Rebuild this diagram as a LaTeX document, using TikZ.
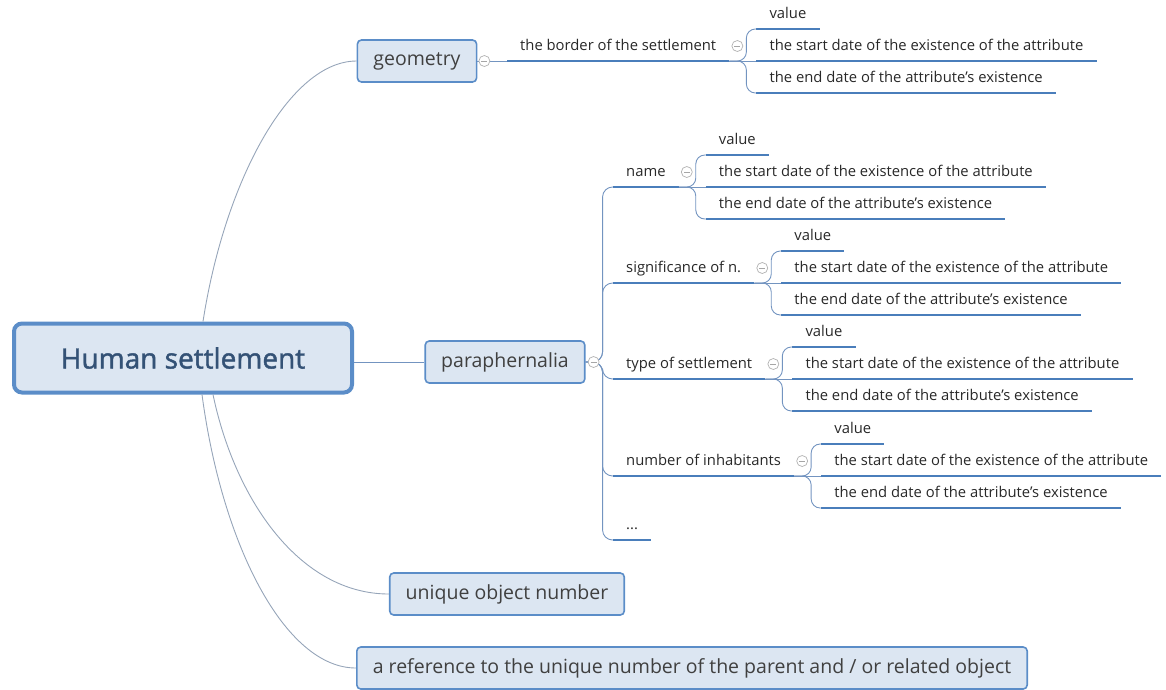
\documentclass[tikz,border=0pt]{standalone}
\usepackage{fontspec}
\setmainfont{Open Sans}
\newfontfamily\rootfont[FakeBold=1.5]{Open Sans}
\usetikzlibrary{positioning}
\definecolor{boxblue}{RGB}{91,141,200}
\definecolor{boxfill}{RGB}{220,230,242}
\definecolor{lineblue}{RGB}{74,126,187}
\definecolor{connblue}{RGB}{115,148,192}
\definecolor{curvegray}{RGB}{150,165,185}
\definecolor{roottext}{RGB}{52,82,118}
\definecolor{leaftext}{RGB}{40,40,40}

\tikzset{
  topic/.style={draw=boxblue, fill=boxfill, line width=1.6pt, rounded corners=4pt,
    inner xsep=16pt, minimum height=42pt, font=\fontsize{19.5}{22}\selectfont, text=black!75},
  roottopic/.style={topic, line width=4pt, rounded corners=8pt, minimum width=338pt,
    minimum height=69pt, font=\rootfont\fontsize{28}{32}\selectfont, text=roottext},
  uline/.style={draw=lineblue, line width=2.8pt},
  leaf/.style={anchor=south west, inner xsep=13pt, inner ysep=0pt, text height=11pt,
    text depth=10pt, font=\fontsize{14.8}{17}\selectfont, text=leaftext,
    append after command={(\tikzlastnode.south west) edge[uline] (\tikzlastnode.south east)}},
  conn/.style={draw=connblue, line width=0.9pt},
  curve/.style={draw=curvegray, line width=0.9pt},
  fold/.style={circle, draw=gray!60, fill=white, line width=0.7pt, minimum size=11pt,
    inner sep=0pt, path picture={\draw[gray!70, line width=0.7pt]
      ([xshift=-3pt]path picture bounding box.center) -- ([xshift=3pt]path picture bounding box.center);}}
}

\begin{document}
\begin{tikzpicture}[x=1pt, y=-1pt]
  \useasboundingbox (0,0) rectangle (1166,689);

  % main topics
  \node[roottopic] (root) at (183,358) {Human settlement};
  \node[topic] (geo) at (417,61) {geometry};
  \node[topic] (para) at (505,362) {paraphernalia};
  \node[topic] (uid) at (507,594) {unique object number};
  \node[topic] (ref) at (692,668) {a reference to the unique number of the parent and / or related object};

  % links from the root
  \draw[curve] ([xshift=20pt]root.north) .. controls (225,180) and (290,61) .. (geo.west);
  \draw[curve] ([xshift=30pt]root.south) .. controls (235,500) and (300,594) .. (uid.west);
  \draw[curve] ([xshift=19pt]root.south) .. controls (222,545) and (285,668) .. (ref.west);
  \draw[conn] (para.west -| root.east) -- (para.west);

  % subtopics
  \node[leaf] (border) at (507,61) {the border of the settlement};
  \node[leaf] (name) at (613,187) {name};
  \node[leaf] (sig) at (613,283) {significance of n.};
  \node[leaf] (type) at (613,379) {type of settlement};
  \node[leaf] (num) at (613,476) {number of inhabitants};
  \node[leaf] (dots) at (613,540) {...};

  \draw[conn] (geo.east) -- (border.south west);
  \node[fold] (geo-f) at ([xshift=7pt]geo.east) {};
  \foreach \c in {name, sig, type, num, dots}
    \draw[conn, rounded corners=10pt] (para.east) -- ++(17pt,0) |- (\c.south west);
  \node[fold] (para-f) at ([xshift=8pt]para.east) {};

  % attributes of every subtopic
  \foreach \p in {border, name, sig, type, num} {
    \node[leaf] (\p-v) at ([shift={(27pt,32pt)}]\p.south east) {value};
    \node[leaf] (\p-s) at ([xshift=27pt]\p.south east) {the start date of the existence of the attribute};
    \node[leaf] (\p-e) at ([shift={(27pt,-32pt)}]\p.south east) {the end date of the attribute's existence};
    \node[fold] (\p-f) at ([shift={(8pt,15pt)}]\p.south east) {};
    \draw[conn] (\p.south east) -- (\p-s.south west);
    \foreach \c in {v, e}
      \draw[conn, rounded corners=9pt] (\p.south east) -- ++(17pt,0) |- (\p-\c.south west);
  }
\end{tikzpicture}
\end{document}
